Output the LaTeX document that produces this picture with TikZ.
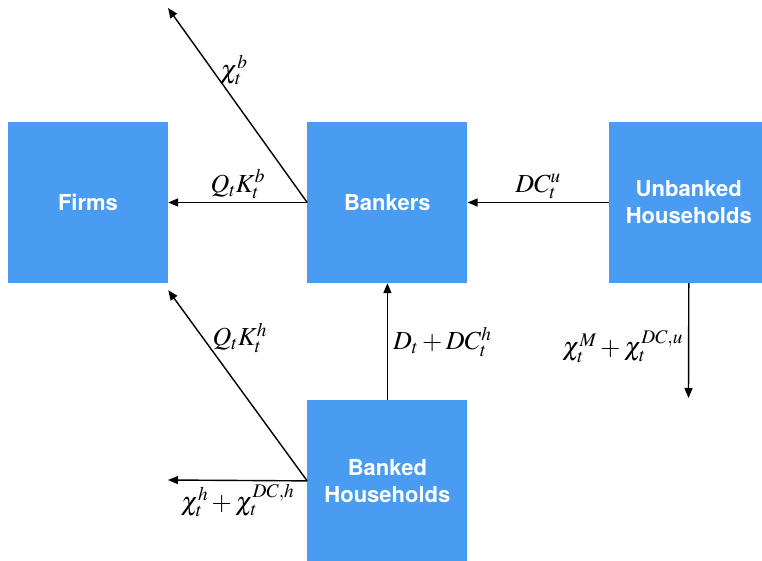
\documentclass[tikz,border=0pt]{standalone}
\usepackage{mathptmx}
\usepackage{fontspec}
\setsansfont{TeX Gyre Heros}
\usepackage{xcolor}
\usetikzlibrary{arrows.meta,positioning,calc}
\definecolor{keyblue}{HTML}{4A9CF2}

\begin{document}
\begin{tikzpicture}[x=1pt,y=1pt,
  sector/.style={fill=keyblue,minimum width=160pt,minimum height=161pt,
                 align=center,text=white,inner sep=0pt,
                 font=\sffamily\bfseries\fontsize{22}{27}\selectfont},
  flow/.style={-{Triangle[length=10pt,width=8pt]},line width=1.4pt},
  lbl/.style={font=\fontsize{26}{30}\selectfont,inner sep=1pt}]
  \useasboundingbox (0,0) rectangle (762,560);
  \node[sector] (firms) at (88,357.5) {Firms};
  \node[sector,right=139pt of firms] (bankers) {Bankers};
  \node[sector,right=141pt of bankers] (unbanked) {Unbanked\\Households};
  \node[sector,below=117pt of bankers] (banked) {Banked\\Households};
  \coordinate (chib) at (168,552);
  \coordinate (chih) at (168,80);
  \coordinate (chiu) at (688.5,162);
  \coordinate (qkh) at ($(firms.south east)+(0,-7)$);
  % bankers
  \draw[flow] (bankers.west) -- node[lbl,above=2pt] {$Q_tK_t^b$} (firms.east);
  \draw[flow] (bankers.west) -- node[lbl,pos=0.68,right=6pt] {$\chi_t^b$} (chib);
  % unbanked households
  \draw[flow] (unbanked.west) -- node[lbl,above=2pt] {$DC_t^u$} (bankers.east);
  \draw[flow] (unbanked.south) -- node[lbl,left=4pt,pos=0.55] {$\chi_t^M+\chi_t^{DC,u}$} (chiu);
  % banked households
  \draw[flow] (banked.north) -- node[lbl,right=4pt] {$D_t+DC_t^h$} (bankers.south);
  \draw[flow] (banked.west) -- node[lbl,pos=0.75,right=8pt] {$Q_tK_t^h$} (qkh);
  \draw[flow] (banked.west) -- node[lbl,below=2pt] {$\chi_t^h+\chi_t^{DC,h}$} (chih);
\end{tikzpicture}
\end{document}
